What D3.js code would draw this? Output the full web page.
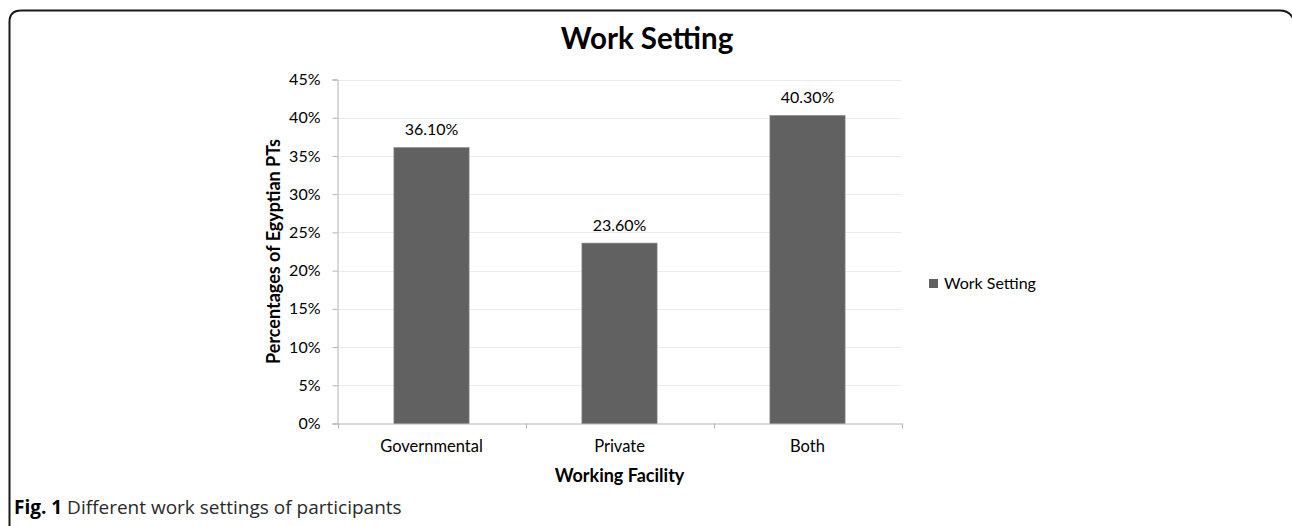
<!DOCTYPE html>
<html>
<head>
<meta charset="utf-8">
<script src="https://cdn.jsdelivr.net/npm/d3@7"></script>
<style>
  html, body { margin: 0; padding: 0; background: #fff; }
  svg { display: block; }
  text { font-family: "Lato", "Open Sans", sans-serif; fill: #000; }
  .caption { font-family: "Open Sans", "Lato", sans-serif; }
</style>
</head>
<body>
<svg id="chart" width="1292" height="526"></svg>
<script>
// Chart data
const categories = ["Governmental", "Private", "Both"];
const workSetting = [36.1, 23.6, 40.3];
const yTicks = [0, 5, 10, 15, 20, 25, 30, 35, 40, 45];
const seriesName = "Work Setting";

const svg = d3.select("#chart");

// outer figure frame (top and left visible, rounded corners)
svg.append("path")
  .attr("d", "M9.5,540 L9.5,22 Q9.5,10.5 21,10.5 L1280,10.5 Q1290,10.5 1294,20")
  .attr("fill", "none")
  .attr("stroke", "#1a1a1a")
  .attr("stroke-width", 2);

const plot = { left: 337.5, right: 901.5, top: 79.5, bottom: 423.5 };

const x = d3.scaleBand().domain(categories).range([plot.left, plot.right]).padding(0);
const y = d3.scaleLinear().domain([0, 45]).range([plot.bottom, plot.top]);

// gridlines
svg.append("g")
  .selectAll("line")
  .data(yTicks.filter(d => d > 0))
  .join("line")
  .attr("x1", plot.left).attr("x2", plot.right)
  .attr("y1", d => Math.round(y(d)) + 0.5).attr("y2", d => Math.round(y(d)) + 0.5)
  .attr("stroke", "#ebebeb").attr("stroke-width", 1);

// y axis
const yAxis = d3.axisLeft(y).tickValues(yTicks).tickFormat(d => d + "%").tickSize(5).tickPadding(12);
const gy = svg.append("g").attr("transform", `translate(${plot.left},0)`).call(yAxis);
gy.select(".domain").attr("stroke", "#b3b3b3");
gy.selectAll(".tick line").attr("stroke", "#b3b3b3");
gy.selectAll(".tick text").style("font-size", "16px").attr("fill", "#000");

// x axis
const xAxis = d3.axisBottom(x).tickSize(0).tickPadding(17);
const gx = svg.append("g").attr("transform", `translate(0,${plot.bottom})`).call(xAxis);
gx.select(".domain").attr("stroke", "#b3b3b3");
gx.selectAll(".tick text").style("font-size", "16.5px").attr("fill", "#000");
// category separator ticks
svg.append("g")
  .selectAll("line")
  .data(categories.map(c => x(c)).concat([plot.right]))
  .join("line")
  .attr("x1", d => Math.round(d) + 0.5).attr("x2", d => Math.round(d) + 0.5)
  .attr("y1", plot.bottom).attr("y2", plot.bottom + 5)
  .attr("stroke", "#b3b3b3");

// bars
const barW = x.bandwidth() * 0.4;
svg.append("g")
  .selectAll("rect")
  .data(categories.map((c, i) => ({ c, v: workSetting[i] })))
  .join("rect")
  .attr("x", d => x(d.c) + (x.bandwidth() - barW) / 2)
  .attr("y", d => y(d.v))
  .attr("width", barW)
  .attr("height", d => y(0) - y(d.v))
  .attr("fill", "#616161")
  .attr("stroke", "#8a8a8a")
  .attr("stroke-width", 0.6);

// value labels
svg.append("g")
  .selectAll("text")
  .data(categories.map((c, i) => ({ c, v: workSetting[i] })))
  .join("text")
  .attr("x", d => x(d.c) + x.bandwidth() / 2)
  .attr("y", d => y(d.v) - 12.5)
  .attr("text-anchor", "middle")
  .style("font-size", "16px")
  .text(d => d.v.toFixed(2) + "%");

// title
svg.append("text")
  .attr("x", 647).attr("y", 48.5)
  .attr("text-anchor", "middle")
  .style("font-size", "29.5px").style("font-weight", "bold")
  .text("Work Setting");

// y axis title
svg.append("text")
  .attr("transform", "translate(280,251.5) rotate(-90)")
  .attr("text-anchor", "middle")
  .style("font-size", "18px").style("font-weight", "bold")
  .text("Percentages of Egyptian PTs");

// x axis title
svg.append("text")
  .attr("x", (plot.left + plot.right) / 2).attr("y", 481.5)
  .attr("text-anchor", "middle")
  .style("font-size", "18px").style("font-weight", "bold")
  .text("Working Facility");

// legend
const lg = svg.append("g").attr("transform", "translate(929,279)");
lg.append("rect").attr("width", 9).attr("height", 9).attr("fill", "#616161");
lg.append("text").attr("x", 15).attr("y", 10).style("font-size", "16px").text(seriesName);

// figure caption
const cap = svg.append("text").attr("class", "caption").attr("x", 14).attr("y", 514).style("font-size", "19px");
cap.append("tspan").style("font-weight", "bold").text("Fig. 1");
cap.append("tspan").attr("fill", "#2a2a2a").text(" Different work settings of participants");
</script>
</body>
</html>
